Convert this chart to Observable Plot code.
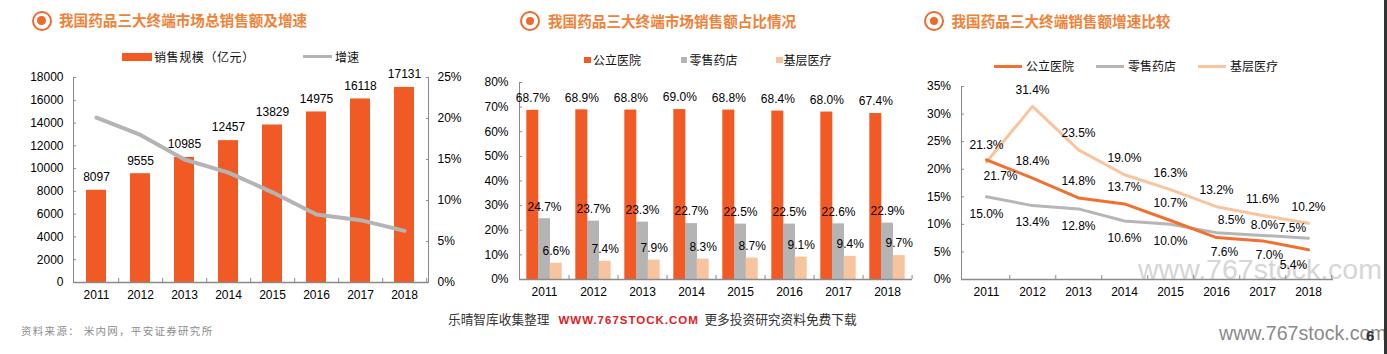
<!DOCTYPE html>
<html><head><meta charset="utf-8">
<script src="https://cdn.jsdelivr.net/npm/d3@7"></script>
<script src="https://cdn.jsdelivr.net/npm/@observablehq/plot@0.6"></script>
<style>
body{margin:0;background:#fff;}
#root{position:relative;width:1387px;height:354px;overflow:hidden;background:#fff;font-family:"Liberation Sans",Arial,"Noto Sans CJK SC",sans-serif;}
.abs{position:absolute;white-space:nowrap;line-height:1;}
.title{font-size:14.6px;font-weight:bold;color:#f08238;font-family:"Noto Sans CJK SC",sans-serif;}
.icon{position:absolute;box-sizing:border-box;width:20px;height:20px;border:2.4px solid #ee6a2c;border-radius:50%;}
.icon::after{content:"";position:absolute;left:50%;top:50%;width:8.5px;height:8.5px;margin:-4.25px 0 0 -4.25px;background:#ee6a2c;border-radius:50%;}
.leg{font-size:12px;color:#111;font-family:"Noto Sans CJK SC",sans-serif;}
.sw{position:absolute;}
.plot{position:absolute;top:0;z-index:2;}
</style></head>
<body><div id="root"></div>
<script>
// ---------- data ----------
const years = ["2011","2012","2013","2014","2015","2016","2017","2018"];
// panel 1
const salesScale = [8097, 9555, 10985, 12457, 13829, 14975, 16118, 17131];
const salesGrowth = [20.1, 18.0, 15.0, 13.4, 11.0, 8.3, 7.6, 6.3];
const leftTicks1 = [0,2000,4000,6000,8000,10000,12000,14000,16000,18000];
const rightTicks1 = [0,5,10,15,20,25];
// panel 2
const seriesNames = ["公立医院","零售药店","基层医疗"];
const sharePublic = [68.7, 68.9, 68.8, 69.0, 68.8, 68.4, 68.0, 67.4];
const shareRetail = [24.7, 23.7, 23.3, 22.7, 22.5, 22.5, 22.6, 22.9];
const shareBase   = [6.6, 7.4, 7.9, 8.3, 8.7, 9.1, 9.4, 9.7];
const ticks2 = [0,10,20,30,40,50,60,70,80];
// panel 3
const growthPublic = [21.7, 18.4, 14.8, 13.7, 10.7, 7.6, 7.0, 5.4];
const growthRetail = [15.0, 13.4, 12.8, 10.6, 10.0, 8.5, 8.0, 7.5];
const growthBase   = [21.3, 31.4, 23.5, 19.0, 16.3, 13.2, 11.6, 10.2];
const ticks3 = [0,5,10,15,20,25,30,35];

// ---------- styles ----------
const ORANGE = "#f15a24", GRAY = "#b4b4b4", PEACH = "#f8c49f";
const LORANGE = "#f07030", LGRAY = "#b6b6b6", LPEACH = "#f9c49e";
const AXIS = "#8a8a8a";
const baseStyle = {background:"transparent", overflow:"visible", fontFamily:'"Liberation Sans", Arial, sans-serif', fontSize:"12px", color:"#000"};

const root = document.getElementById("root");
function add(html){ root.insertAdjacentHTML("beforeend", html); }

// axis helpers: inward y ticks, labels through the y scale; boundary x ticks
function yAxisIn(ticks, fmt, pad, anchor){
  const right = anchor === "right";
  const s = right ? -1 : 1;
  return [
    Plot.axisY({ticks, anchor: right ? "right" : "left", tickSize:3, dx:3*s, tickFormat:()=>"", stroke:AXIS, label:null}),
    Plot.text(ticks, {y:d=>d, text:fmt, frameAnchor: right ? "right" : "left", textAnchor: right ? "start" : "end", dx: right ? pad : -pad, fill:"#000"})
  ];
}
function xBoundaryTicks(step){
  return Plot.axisX({tickSize:4, dx:step/2, dy:-4, tickFormat:()=>"", stroke:AXIS, label:null});
}

// watermark behind
add(`<div class="abs" style="left:1138px;top:255px;font-size:28.5px;color:#d6d6d6;">www.767stock.com</div>`);

// titles
function title(cx, cy, tx, text){
  add(`<div class="icon" style="left:${cx-10}px;top:${cy-10}px;"></div>`);
  add(`<div class="abs title" style="left:${tx}px;top:${cy-7.5}px;">${text}</div>`);
}
title(41.5, 20.7, 59, "我国药品三大终端市场总销售额及增速");
title(530, 21, 548, "我国药品三大终端市场销售额占比情况");
title(934, 21, 951.5, "我国药品三大终端销售额增速比较");

// legends
add(`<div class="sw" style="left:122px;top:52.5px;width:30px;height:8px;background:${ORANGE};"></div>`);
add(`<div class="abs leg" style="left:154px;top:50.5px;letter-spacing:0.6px;">销售规模（亿元）</div>`);
add(`<div class="sw" style="left:303px;top:55px;width:29px;height:3px;background:${GRAY};"></div>`);
add(`<div class="abs leg" style="left:335px;top:50.5px;">增速</div>`);

const sq2 = [[584,593],[680.5,689.5],[776,783.5]];
const cols2 = [ORANGE, GRAY, PEACH];
seriesNames.forEach((n,i)=>{
  add(`<div class="sw" style="left:${sq2[i][0]}px;top:56.7px;width:6.5px;height:6.5px;background:${cols2[i]};"></div>`);
  add(`<div class="abs leg" style="left:${sq2[i][1]}px;top:54px;">${n}</div>`);
});
const ln3 = [[994,1026],[1096,1128],[1198,1230]];
const cols3 = [LORANGE, LGRAY, LPEACH];
seriesNames.forEach((n,i)=>{
  add(`<div class="sw" style="left:${ln3[i][0]}px;top:64.5px;width:28px;height:3px;background:${cols3[i]};"></div>`);
  add(`<div class="abs leg" style="left:${ln3[i][1]}px;top:60px;">${n}</div>`);
});

// footer
add(`<div class="abs" style="left:21px;top:326px;font-size:10.5px;letter-spacing:1.3px;color:#8c8c8c;font-family:'Noto Sans CJK SC',sans-serif;">资料来源：&nbsp;米内网，平安证券研究所</div>`);
add(`<div class="abs" style="left:448px;top:312.5px;font-size:12.7px;color:#333;font-family:'Noto Sans CJK SC',sans-serif;">乐晴智库收集整理<span style="display:inline-block;margin:0 5.5px 0 9px;font-family:'Liberation Sans',Arial,sans-serif;font-weight:bold;color:#e0201c;font-size:11.5px;letter-spacing:1px;">WWW.767STOCK.COM</span>更多投资研究资料免费下载</div>`);
add(`<div class="abs" style="left:1219px;top:324px;font-size:19.6px;color:#8a8a8a;">www.767stock.com</div>`);
add(`<div class="abs" style="left:1366px;top:328px;font-size:15px;font-weight:bold;color:#333;">6</div>`);
add(`<div class="sw" style="left:1384px;top:0;width:3px;height:354px;background:#333;"></div>`);

// ---------- panel 1 ----------
const d1 = years.map((y,i)=>({year:y, sales:salesScale[i], growth:salesGrowth[i]}));
const k1 = 18000/25;
const W1 = 460, ML1 = 73, MR1 = 32, step1 = (W1-ML1-MR1)/years.length;
const p1 = Plot.plot({
  width:W1, height:310, marginLeft:ML1, marginRight:MR1, marginTop:77, marginBottom:28,
  style:baseStyle,
  x:{domain:years, paddingInner:0.545, paddingOuter:0.2725, label:null},
  y:{domain:[0,18000], label:null},
  marks:[
    Plot.barY(d1,{x:"year", y:"sales", fill:ORANGE}),
    Plot.frame({anchor:"left", stroke:AXIS}),
    Plot.frame({anchor:"right", stroke:AXIS}),
    Plot.ruleY([0],{stroke:AXIS, strokeWidth:1.3}),
    ...yAxisIn(leftTicks1, d=>String(d), 10),
    ...yAxisIn(rightTicks1.map(t=>t*k1), d=>Math.round(d/k1)+"%", 9, "right"),
    Plot.axisX({tickSize:0, tickPadding:8, label:null, fill:"#000"}),
    xBoundaryTicks(step1),
    Plot.line(d1,{x:"year", y:d=>d.growth*k1, stroke:GRAY, strokeWidth:4, strokeLinejoin:"round"}),
    Plot.text(d1,{x:"year", y:"sales", text:d=>String(d.sales), dy:-13, fill:"#000"})
  ]
});
p1.classList.add("plot"); p1.style.left = "0px"; p1.style.width = W1 + "px"; root.appendChild(p1);

// ---------- panel 3 ----------
const gVals = [growthPublic, growthRetail, growthBase];
const d3a = seriesNames.flatMap((s,si)=>years.map((y,i)=>({year:y, series:s, si, value:gVals[si][i]})));
const ser = si => d3a.filter(d=>d.si===si);
const lab = d=>d.value.toFixed(1)+"%";
function labels(si, ys, dx, dy){
  return Plot.text(ser(si).filter(d=>ys.includes(d.year)),{x:"year", y:"value", text:lab, dx, dy, fill:"#000"});
}
const W3 = 467, ML3 = 41, MR3 = 54, step3 = (W3-ML3-MR3)/years.length;
const p3 = Plot.plot({
  width:W3, height:310, marginLeft:ML3, marginRight:MR3, marginTop:86, marginBottom:31,
  style:baseStyle,
  x:{type:"point", domain:years, padding:0.5, label:null},
  y:{domain:[0,35], label:null},
  marks:[
    Plot.frame({anchor:"left", stroke:AXIS}),
    Plot.ruleY([0],{stroke:AXIS, strokeWidth:1.3}),
    ...yAxisIn(ticks3, d=>d+"%", 10.5),
    Plot.axisX({tickSize:0, tickPadding:7.5, label:null, fill:"#000"}),
    xBoundaryTicks(step3),
    Plot.line(ser(1),{x:"year", y:"value", stroke:LGRAY, strokeWidth:3, strokeLinejoin:"round"}),
    Plot.line(ser(2),{x:"year", y:"value", stroke:LPEACH, strokeWidth:3, strokeLinejoin:"round"}),
    Plot.line(ser(0),{x:"year", y:"value", stroke:LORANGE, strokeWidth:3, strokeLinejoin:"round"}),
    labels(2, years, 0, -16.5),
    labels(1, ["2011","2012","2013","2014","2015"], 0, 17),
    labels(1, ["2016"], 15, -12),
    labels(1, ["2017"], 2, -10),
    labels(1, ["2018"], -16, -10),
    labels(0, ["2011"], 14, 16),
    labels(0, ["2012","2013","2014","2015"], 0, -17),
    labels(0, ["2016"], 8, 15),
    labels(0, ["2017"], 7, 14),
    labels(0, ["2018"], -15, 15.5)
  ]
});
p3.classList.add("plot"); p3.style.left = "920px"; root.appendChild(p3);

// ---------- panel 2 (drawn last, on top) ----------
const shareVals = [sharePublic, shareRetail, shareBase];
const d2 = seriesNames.flatMap((s,si)=>years.map((y,i)=>({year:y, series:s, si, value:shareVals[si][i]})));
const W2 = 460, ML2 = 59, MR2 = 8, step2 = (W2-ML2-MR2)/years.length;
const PI2 = 0.762;
const bw2 = step2*(1-PI2);
const marks2 = [ Plot.frame({anchor:"left", stroke:AXIS}) ];
seriesNames.forEach((s,si)=>{
  marks2.push(Plot.barY(d2.filter(d=>d.si===si),{x:"year", y:"value", fill:cols2[si], dx:(si-1)*bw2}));
});
seriesNames.forEach((s,si)=>{
  marks2.push(Plot.text(d2.filter(d=>d.si===si),{x:"year", y:"value", text:d=>d.value.toFixed(1)+"%", dx:(si-1)*bw2, dy:-12, fill:"#000"}));
});
marks2.push(
  Plot.ruleY([0],{stroke:AXIS, strokeWidth:1.3}),
  ...yAxisIn(ticks2, d=>d+"%", 11),
  Plot.axisX({tickSize:0, tickPadding:8, label:null, fill:"#000"}),
  xBoundaryTicks(step2)
);
const p2 = Plot.plot({
  width:W2, height:310, marginLeft:ML2, marginRight:MR2, marginTop:82, marginBottom:31,
  style:baseStyle,
  x:{domain:years, paddingInner:PI2, paddingOuter:PI2/2, label:null},
  y:{domain:[0,80], label:null},
  marks:marks2
});
p2.classList.add("plot"); p2.style.left = "460px"; p2.style.zIndex = "3"; root.appendChild(p2);
</script>
</body></html>
